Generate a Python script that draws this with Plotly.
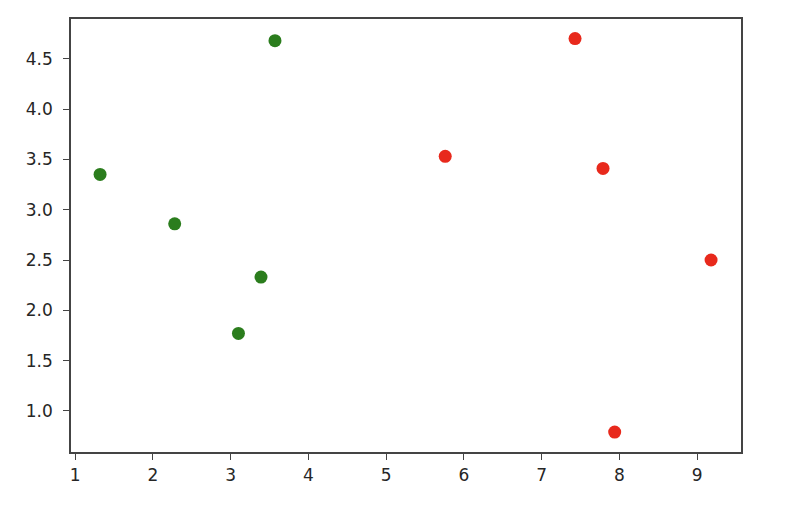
import plotly.graph_objects as go

# two groups of points
green_x = [1.32, 2.28, 3.57, 3.39, 3.10]
green_y = [3.35, 2.86, 4.68, 2.33, 1.77]

red_x = [5.76, 7.43, 7.79, 9.18, 7.94]
red_y = [3.53, 4.70, 3.41, 2.50, 0.79]

GREEN = "#2b7d1d"
RED = "#e8291c"
INK = "#262626"

fig = go.Figure()
fig.add_trace(go.Scatter(x=green_x, y=green_y, mode="markers",
                         marker=dict(size=13, color=GREEN)))
fig.add_trace(go.Scatter(x=red_x, y=red_y, mode="markers",
                         marker=dict(size=13, color=RED)))

axis_style = dict(
    showline=True, linecolor="#444444", linewidth=1.5, mirror=True,
    showgrid=False, zeroline=False,
    ticks="outside", ticklen=6, tickwidth=1.3, tickcolor="#444444",
    tickfont=dict(family="DejaVu Sans", size=17, color=INK),
)

fig.update_xaxes(range=[0.946, 9.565], tickmode="linear", tick0=1, dtick=1,
                 ticklabelstandoff=1, **axis_style)
fig.update_yaxes(range=[0.592, 4.895], tickmode="linear", tick0=1, dtick=0.5,
                 tickformat=".1f", ticklabelstandoff=7, **axis_style)

fig.update_layout(
    width=792, height=514,
    margin=dict(l=63, r=59, t=9, b=70),
    plot_bgcolor="white", paper_bgcolor="white",
    showlegend=False,
)

fig.write_html("out.html")
